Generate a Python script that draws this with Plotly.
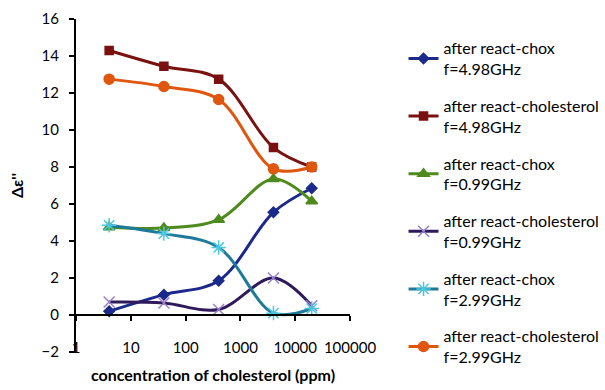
import plotly.graph_objects as go

conc = [4, 40, 400, 4000, 20000]

chox_498 = [0.2, 1.1, 1.85, 5.55, 6.85]
chol_498 = [14.3, 13.45, 12.75, 9.05, 8.0]
chox_099 = [4.75, 4.7, 5.15, 7.35, 6.15]
chol_099 = [0.7, 0.65, 0.3, 2.0, 0.5]
chox_299 = [4.85, 4.4, 3.65, 0.1, 0.35]
chol_299 = [12.75, 12.35, 11.65, 7.9, 8.0]

x_tickvals = [1, 10, 100, 1000, 10000, 100000]
x_ticktext = ["1", "10", "100", "1000", "10000", "100000"]

names = [
    "after react-chox<br>f=4.98GHz",
    "after react-cholesterol<br>f=4.98GHz",
    "after react-chox<br>f=0.99GHz",
    "after react-cholesterol<br>f=0.99GHz",
    "after react-chox<br>f=2.99GHz",
    "after react-cholesterol<br>f=2.99GHz",
]
series = [chox_498, chol_498, chox_099, chol_099, chox_299, chol_299]
line_colors = ["#1B2A8A", "#7A1010", "#4E8A1E", "#2E1A5A", "#1F7A9A", "#E0560F"]
marker_colors = ["#1B2A8A", "#7A1010", "#4E8A1E", "#9A80CC", "#4BC8E0", "#E0560F"]
symbols = ["diamond", "square", "triangle-up", "x-thin-open", "asterisk-open", "circle"]
sizes = [8, 8, 10, 11, 12, 10]

FONT = "Lato"

fig = go.Figure()
for i, (nm, ys) in enumerate(zip(names, series)):
    fig.add_trace(go.Scatter(
        x=conc, y=ys, name=nm, mode="lines+markers",
        line=dict(color=line_colors[i], width=3, shape="spline", smoothing=1),
        marker=dict(symbol=symbols[i], size=sizes[i], color=marker_colors[i],
                    line=dict(color=marker_colors[i], width=1.5)),
        legendgroup=str(i),
    ))

# invisible trace to anchor the crossing x axis at y=0
fig.add_trace(go.Scatter(x=conc, y=[None] * len(conc), xaxis="x2",
                         showlegend=False, hoverinfo="skip", mode="markers"))

fig.update_layout(
    width=605, height=390,
    margin=dict(l=76, r=255, t=19, b=38, autoexpand=False),
    paper_bgcolor="white", plot_bgcolor="white",
    font=dict(family=FONT, size=15, color="black"),
    xaxis=dict(type="log", range=[-0.003, 5], showgrid=False, showline=False,
               zeroline=False, ticks="", tickvals=x_tickvals, ticktext=x_ticktext,
               anchor="free", position=0.045, tickfont=dict(size=15),
               title=dict(text="<b>concentration of cholesterol (ppm)</b>",
                          font=dict(size=16), standoff=14)),
    xaxis2=dict(type="log", range=[-0.003, 5], overlaying="x", anchor="free",
                position=2 / 18, showgrid=False, showline=True, linecolor="black",
                linewidth=2, ticks="outside", ticklen=5, tickcolor="black",
                tickwidth=1.5, showticklabels=False, zeroline=False,
                tickvals=x_tickvals),
    yaxis=dict(range=[-2, 16], dtick=2, showgrid=False, zeroline=False,
               showline=True, linecolor="black", linewidth=2, ticks="outside",
               ticklen=5, tickcolor="black", tickwidth=1.5, tickfont=dict(size=15),
               ticklabelstandoff=7,
               title=dict(text="<b>Δε''</b>", font=dict(size=16), standoff=14)),
    legend=dict(xref="container", yref="container", x=0.667, y=0.92,
                xanchor="left", yanchor="top", font=dict(size=16),
                tracegroupgap=13, bgcolor="rgba(0,0,0,0)", maxheight=1.0),
    showlegend=True,
)

fig.write_html("out.html", config={"displayModeBar": False},
               post_script="document.body.style.margin='0px';")
